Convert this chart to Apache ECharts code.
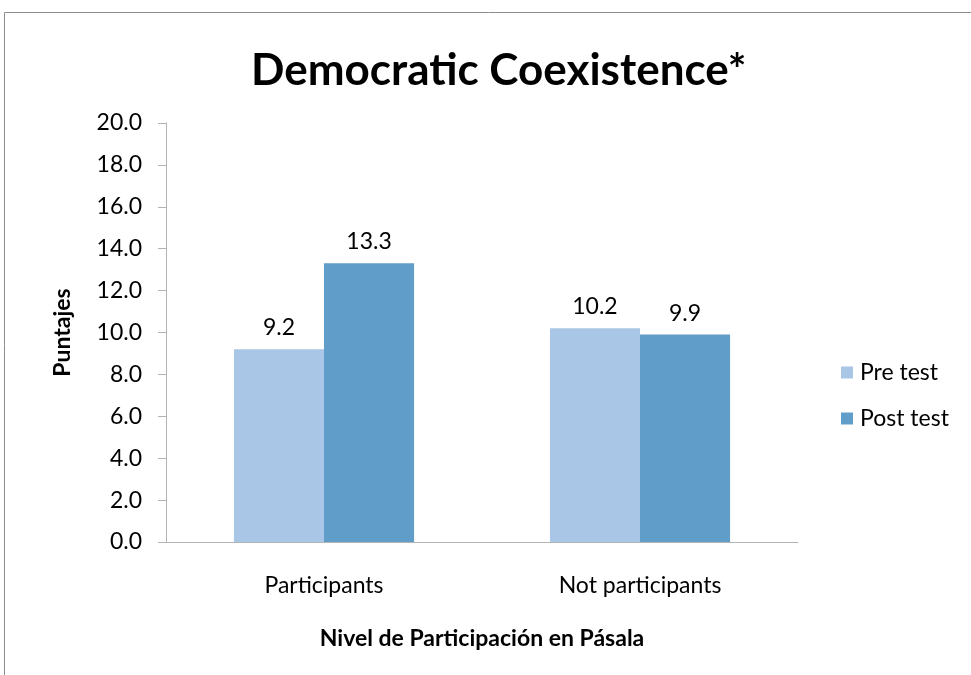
<!DOCTYPE html>
<html>
<head>
<meta charset="utf-8">
<script src="https://cdn.jsdelivr.net/npm/echarts@6/dist/echarts.min.js"></script>
<style>
  html, body { margin: 0; padding: 0; background: #fff; }
  #chart { width: 971px; height: 675px; }
</style>
</head>
<body>
<div id="chart"></div>
<script>
// Scores by participation level
const categories = ['Participants', 'Not participants'];
const preTest = [9.2, 10.2];
const postTest = [13.3, 9.9];
const seriesNames = ['Pre test', 'Post test'];

const FONT = 'Lato, "Open Sans", sans-serif';
const chart = echarts.init(document.getElementById('chart'));

chart.setOption({
  backgroundColor: '#ffffff',
  animation: false,
  graphic: [{
    type: 'rect',
    shape: { x: 4.5, y: 12.5, width: 1000, height: 700 },
    style: { fill: 'none', stroke: '#8c8c8c', lineWidth: 1 },
    silent: true
  }],
  title: {
    text: 'Democratic Coexistence*',
    left: 246,
    top: 44,
    textStyle: { fontFamily: FONT, fontWeight: 'bold', fontSize: 44, color: '#000' }
  },
  legend: {
    orient: 'vertical',
    left: 836,
    top: 356,
    itemWidth: 12,
    itemHeight: 12,
    itemGap: 23,
    icon: 'rect',
    data: seriesNames,
    textStyle: { fontFamily: FONT, fontSize: 23, color: '#000', padding: [0, 0, 0, 2] }
  },
  grid: { left: 166, right: 173, top: 123, bottom: 133, containLabel: false },
  xAxis: {
    type: 'category',
    data: categories,
    name: 'Nivel de Participación en Pásala',
    nameLocation: 'middle',
    nameGap: 85,
    nameTextStyle: { fontFamily: FONT, fontWeight: 'bold', fontSize: 23, color: '#000' },
    axisLine: { lineStyle: { color: '#b3b3b3', width: 1 } },
    axisTick: { show: false },
    axisLabel: { fontFamily: FONT, fontSize: 23, color: '#000', margin: 32 },
    splitLine: { show: false }
  },
  yAxis: {
    type: 'value',
    min: 0,
    max: 20,
    interval: 2,
    name: 'Puntajes',
    nameLocation: 'middle',
    nameGap: 92,
    nameRotate: 90,
    nameTextStyle: { fontFamily: FONT, fontWeight: 'bold', fontSize: 23, color: '#000' },
    axisLine: { show: true, lineStyle: { color: '#b3b3b3', width: 1 } },
    axisTick: { show: true, inside: false, length: 8, lineStyle: { color: '#b3b3b3' } },
    axisLabel: {
      fontFamily: FONT, fontSize: 23, color: '#000', margin: 24,
      formatter: v => v.toFixed(1)
    },
    splitLine: { show: false }
  },
  series: [
    {
      name: seriesNames[0],
      type: 'bar',
      data: preTest,
      barGap: '0%',
      barCategoryGap: '43%',
      itemStyle: { color: '#a9c6e6' },
      label: {
        show: true, position: 'top', distance: 10,
        fontFamily: FONT, fontSize: 23, color: '#000',
        formatter: p => p.value.toFixed(1)
      }
    },
    {
      name: seriesNames[1],
      type: 'bar',
      data: postTest,
      barGap: '0%',
      barCategoryGap: '43%',
      itemStyle: { color: '#609dc9' },
      label: {
        show: true, position: 'top', distance: 10,
        fontFamily: FONT, fontSize: 23, color: '#000',
        formatter: p => p.value.toFixed(1)
      }
    }
  ]
});
</script>
</body>
</html>
